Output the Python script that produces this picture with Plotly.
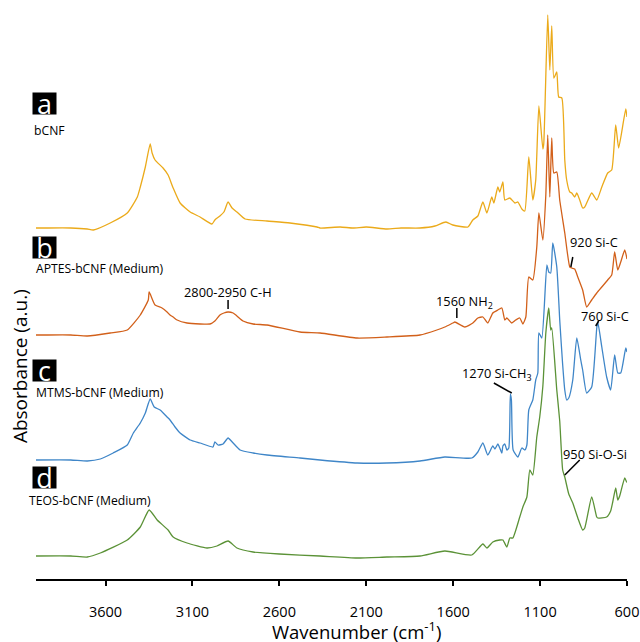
import plotly.graph_objects as go

# ---------------- data ----------------
names = ["bCNF", "APTES-bCNF (Medium)", "MTMS-bCNF (Medium)", "TEOS-bCNF (Medium)"]
letters = ["a", "b", "c", "d"]
colors = ["#EBAA1A", "#D2601A", "#3F86C8", "#5B9237"]
offsets = [3.51, 2.44, 1.19, 0.23]          # vertical stacking offsets (a.u.)
scale = 0.01                                  # a.u. per relative unit

wn_a = [4000, 3958, 3800, 3705, 3670, 3573, 3475, 3417, 3400, 3371, 3343, 3332, 3315, 3269, 3240, 3211,
        3171, 3113, 3056, 2988, 2971, 2942, 2919, 2895, 2872, 2844, 2797, 2671, 2539, 2383, 2366, 2250,
        2176, 2100, 1981, 1900, 1791, 1705, 1642, 1602, 1515, 1487, 1458, 1429, 1406, 1378, 1366, 1343,
        1332, 1314, 1303, 1274, 1245, 1228, 1205, 1188, 1165, 1142, 1125, 1107, 1084, 1079, 1056, 1044,
        1033, 1021, 1004, 993, 975, 958, 947, 929, 918, 901, 889, 872, 855, 843, 803, 774, 745, 711, 688,
        665, 648, 607, 600]
rel_a = [0, 0, 0, -1, -2, 5, 15, 31, 41, 61, 84, 75, 68, 60, 53, 40,
         25, 16, 11, 4, 8, 12, 16, 26, 20, 16, 9, 7, 5, 1, 0, 1,
         0, 1, -1, 0, 0, 2, 6, 3, 1, 8, 12, 26, 15, 31, 25, 41,
         36, 46, 28, 30, 25, 26, 19, 17, 71, 28, 48, 122, 79, 84, 213, 158,
         202, 150, 156, 131, 130, 68, 48, 36, 35, 31, 35, 28, 20, 21, 35, 28, 41, 55, 58,
         103, 80, 119, 111]

wn_b = [4000, 3958, 3800, 3705, 3573, 3475, 3400, 3354, 3349, 3315, 3275, 3246, 3229, 3211, 3188, 3131,
        3056, 2999, 2971, 2942, 2919, 2895, 2866, 2844, 2809, 2751, 2671, 2481, 2366, 2153, 1981, 1791,
        1694, 1648, 1602, 1590, 1533, 1487, 1458, 1429, 1401, 1372, 1343, 1320, 1303, 1291, 1263, 1240,
        1217, 1199, 1182, 1165, 1142, 1119, 1107, 1084, 1067, 1056, 1044, 1033, 1021, 1004, 987, 958,
        929, 918, 901, 883, 855, 832, 803, 774, 745, 711, 688, 671, 653, 636, 613, 600]
rel_b = [0, 0, 0, -1, 2, 5, 20, 35, 43, 30, 27, 23, 20, 18, 15, 12,
         11, 11, 14, 20, 22, 23, 22, 19, 14, 11, 10, 3, 2, -3, -2, 0,
         5, 8, 12, 13, 8, 12, 17, 18, 12, 22, 25, 27, 15, 17, 12, 15,
         17, 11, 18, 58, 55, 88, 122, 95, 140, 200, 138, 197, 162, 163, 135, 102,
         68, 67, 66, 58, 45, 28, 35, 42, 48, 55, 60, 83, 65, 73, 85, 76]

wn_c = [4000, 3800, 3705, 3630, 3556, 3475, 3440, 3400, 3371, 3343, 3320, 3286, 3246, 3229, 3200, 3171,
        3113, 3056, 2982, 2971, 2953, 2924, 2895, 2866, 2826, 2751, 2671, 2481, 2366, 2153, 1981, 1791,
        1648, 1493, 1458, 1429, 1401, 1372, 1360, 1343, 1332, 1320, 1314, 1303, 1291, 1280, 1271, 1265,
        1255, 1228, 1205, 1188, 1176, 1165, 1142, 1125, 1113, 1107, 1090, 1061, 1050, 1039, 1027, 1004,
        987, 970, 958, 947, 935, 912, 889, 866, 855, 832, 803, 774, 768, 745, 717, 694, 671, 653, 636,
        607, 600]
rel_c = [0, 0, -1, 1, 7, 15, 27, 37, 47, 61, 53, 50, 43, 40, 33, 27,
         20, 17, 13, 18, 15, 16, 22, 17, 10, 7, 5, 2, 0, -3, -3, -1,
         3, 2, 8, 17, 5, 14, 11, 16, 12, 7, 14, 16, 10, 12, 66, 60,
         10, 3, 12, 10, 15, 50, 60, 80, 87, 127, 122, 195, 188, 187, 217, 193,
         140, 95, 70, 60, 62, 80, 122, 100, 90, 67, 73, 132, 138, 113, 83, 70, 105, 87, 87,
         112, 108]

wn_d = [4000, 3800, 3705, 3630, 3475, 3400, 3349, 3303, 3240, 3211, 3131, 3016, 2959, 2895, 2844, 2751,
        2600, 2366, 2153, 1981, 1791, 1648, 1493, 1429, 1406, 1372, 1332, 1314, 1291, 1274, 1257, 1217,
        1199, 1176, 1159, 1142, 1119, 1102, 1084, 1067, 1050, 1039, 1033, 1004, 987, 970, 958, 935,
        912, 883, 855, 843, 803, 774, 768, 717, 694, 682, 665, 653, 642, 613, 602, 600]
rel_d = [0, 0, -1, 3, 16, 29, 46, 36, 26, 19, 13, 8, 10, 15, 8, 4,
         2, 0, -2, -1, 0, 5, 1, 12, 8, 14, 16, 16, 9, 18, 18, 39,
         49, 59, 86, 81, 119, 139, 170, 223, 248, 226, 228, 166, 135, 86, 79, 62,
         53, 38, 26, 28, 59, 39, 38, 39, 45, 54, 68, 56, 60, 78, 74, 74]

tick_vals = [3600, 3100, 2600, 2100, 1600, 1100, 600]

# peak labels: text, text position (wn, a.u.), tick line (wn0, y0, wn1, y1)
peak_text = ["2800-2950 C-H", "1560 NH<sub>2</sub>", "920 Si-C", "760 Si-C", "1270 Si-CH<sub>3</sub>", "950 Si-O-Si"]
peak_pos = [(2895, 2.87), (1536, 2.77), (788, 3.37), (728, 2.63), (1349, 2.05), (783, 1.25)]
peak_line = [(2895, 2.79, 2895, 2.70), (1579, 2.71, 1579, 2.61), (912, 3.22, 923, 3.12),
             (763, 2.58, 780, 2.53), (1366, 1.96, 1263, 1.86), (872, 1.19, 958, 1.04)]

# ---------------- figure ----------------
FONT = "Open Sans"
fig = go.Figure()
series = [(wn_a, rel_a), (wn_b, rel_b), (wn_c, rel_c), (wn_d, rel_d)]
for (wn, rel), name, col, off in zip(series, names, colors, offsets):
    fig.add_trace(go.Scatter(x=wn, y=[off + r * scale for r in rel], mode="lines", name=name,
                             line=dict(color=col, width=1.3, shape="spline", smoothing=0.5),
                             showlegend=False))

# sample labels (letter boxes + names)
box_y = [4.76, 3.315, 2.09, 1.015]
name_y = [4.49, 3.11, 1.87, 0.79]
name_x = [-0.0068, -0.0034, -0.0034, -0.0152]
for L, nm, by, ny, nx in zip(letters, names, box_y, name_y, name_x):
    fig.add_annotation(x=0.0144, xref="paper", y=by, yref="y", text=L, showarrow=False,
                       font=dict(family=FONT, size=27, color="white"), bgcolor="black",
                       width=23, height=21, borderpad=0, xanchor="center", yanchor="middle")
    fig.add_annotation(x=nx, xref="paper", y=ny, yref="y", text=nm, showarrow=False,
                       font=dict(family=FONT, size=12.2, color="black"), xanchor="left", yanchor="middle")

for t, (px, py), (x0, y0, x1, y1) in zip(peak_text, peak_pos, peak_line):
    fig.add_annotation(x=px, y=py, text=t, showarrow=False,
                       font=dict(family=FONT, size=12.8, color="black"), xanchor="center", yanchor="middle")
    fig.add_shape(type="line", x0=x0, y0=y0, x1=x1, y1=y1, xref="x", yref="y",
                  line=dict(color="black", width=1.5))

# axis titles
fig.add_annotation(x=0.542, xref="paper", y=-0.089, yref="paper", text="Wavenumber (cm<sup>-1</sup>)",
                   showarrow=False, font=dict(family=FONT, size=18.5, color="black"),
                   xanchor="center", yanchor="middle")
fig.add_annotation(x=-0.027, xref="paper", y=0.371, yref="paper", text="Absorbance (a.u.)",
                   showarrow=False, textangle=-90, font=dict(family=FONT, size=19, color="black"),
                   xanchor="center", yanchor="middle")

fig.update_layout(
    width=640, height=642, autosize=False,
    margin=dict(l=36, r=13, t=5, b=63),
    paper_bgcolor="white", plot_bgcolor="white",
    font=dict(family=FONT, color="black"),
)
fig.update_xaxes(range=[4000, 600], tickvals=tick_vals, ticktext=[str(v) for v in tick_vals],
                 ticks="outside", ticklen=5, tickwidth=1.5, tickcolor="black",
                 showline=True, linecolor="black", linewidth=1.5, showgrid=False, zeroline=False,
                 tickfont=dict(family=FONT, size=14.5, color="black"), ticklabelstandoff=14,
                 automargin=False)
fig.update_yaxes(range=[0, 5.74], showticklabels=False, showline=False, showgrid=False,
                 zeroline=False, ticks="", automargin=False)

fig.write_html("out.html", config={"displayModeBar": False},
               post_script="document.body.style.margin='0';document.body.style.overflow='hidden';")
